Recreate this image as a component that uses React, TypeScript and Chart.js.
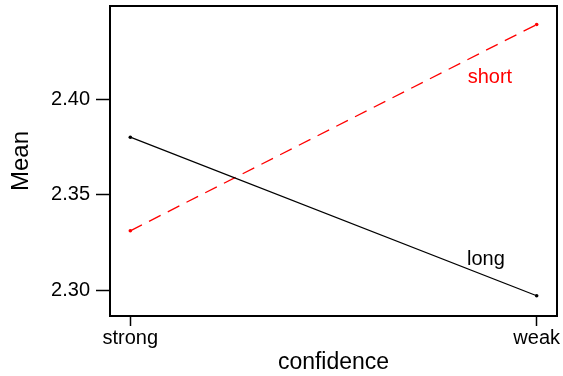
import React, { useEffect, useRef } from "react";
import { Chart, registerables } from "chart.js";

Chart.register(...registerables);

const categories = ["strong", "weak"];
const categoryPositions = [1, 2];
const longValues = [2.38, 2.297];
const shortValues = [2.331, 2.439];
const yTickValues = [2.3, 2.35, 2.4];
const seriesLabels = ["long", "short"];
const labelPositions = [
  { x: 1.875, y: 2.316 },
  { x: 1.885, y: 2.4115 },
];
const seriesColors = ["#000000", "#ff0000"];

const FONT = "'Liberation Sans', Arial, Helvetica, sans-serif";

export default function App() {
  const ref = useRef<HTMLCanvasElement | null>(null);

  useEffect(() => {
    if (!ref.current) return;

    const boxPlugin = {
      id: "boxAndLabels",
      afterDatasetsDraw(chart: any) {
        const { ctx, chartArea } = chart;
        ctx.save();
        ctx.strokeStyle = "#000";
        ctx.lineWidth = 2;
        ctx.strokeRect(
          chartArea.left,
          chartArea.top,
          chartArea.right - chartArea.left,
          chartArea.bottom - chartArea.top
        );
        const xs = chart.scales.x;
        const ys = chart.scales.y;
        ctx.font = `20px ${FONT}`;
        ctx.textAlign = "center";
        ctx.textBaseline = "middle";
        seriesLabels.forEach((lab, i) => {
          ctx.fillStyle = seriesColors[i];
          ctx.fillText(
            lab,
            xs.getPixelForValue(labelPositions[i].x),
            ys.getPixelForValue(labelPositions[i].y)
          );
        });
        ctx.restore();
      },
    };

    const chart = new Chart(ref.current, {
      type: "line",
      data: {
        datasets: [
          {
            label: seriesLabels[0],
            data: categoryPositions.map((x, i) => ({ x, y: longValues[i] })),
            borderColor: seriesColors[0],
            backgroundColor: seriesColors[0],
            borderWidth: 1.3,
            pointRadius: 1.8,
            pointBorderWidth: 0,
            fill: false,
          },
          {
            label: seriesLabels[1],
            data: categoryPositions.map((x, i) => ({ x, y: shortValues[i] })),
            borderColor: seriesColors[1],
            backgroundColor: seriesColors[1],
            borderWidth: 1.3,
            borderDash: [13, 8],
            pointRadius: 1.8,
            pointBorderWidth: 0,
            fill: false,
          },
        ],
      },
      options: {
        animation: false,
        responsive: true,
        maintainAspectRatio: false,
        layout: { padding: { top: 6, right: 6, left: 0, bottom: 0 } },
        plugins: {
          legend: { display: false },
          tooltip: { enabled: false },
        },
        scales: {
          x: {
            type: "linear",
            min: 0.95,
            max: 2.05,
            afterFit: (s: any) => {
              s.height = 60;
              s.paddingLeft = 0;
              s.paddingRight = 0;
            },
            afterBuildTicks: (s: any) => {
              s.ticks = categoryPositions.map((v) => ({ value: v }));
            },
            ticks: {
              color: "#000",
              font: { family: FONT, size: 20 },
              padding: 0,
              maxRotation: 0,
              autoSkip: false,
              callback: (v: any) => {
                const idx = categoryPositions.indexOf(Number(v));
                return idx >= 0 ? categories[idx] : "";
              },
            },
            grid: {
              drawOnChartArea: false,
              drawTicks: true,
              tickLength: 10,
              tickWidth: 1.5,
              tickColor: "#000",
            },
            border: { display: false },
            title: {
              display: true,
              text: "confidence",
              color: "#000",
              font: { family: FONT, size: 23 },
              padding: { top: 0, bottom: 0 },
            },
          },
          y: {
            type: "linear",
            min: 2.2864,
            max: 2.4487,
            afterFit: (s: any) => {
              s.width = 110;
              s.paddingTop = 0;
              s.paddingBottom = 0;
            },
            afterBuildTicks: (s: any) => {
              s.ticks = yTickValues.map((v) => ({ value: v }));
            },
            ticks: {
              color: "#000",
              font: { family: FONT, size: 20 },
              padding: 6,
              callback: (v: any) => Number(v).toFixed(2),
            },
            grid: {
              drawOnChartArea: false,
              drawTicks: true,
              tickLength: 14,
              tickWidth: 1.5,
              tickColor: "#000",
            },
            border: { display: false },
            title: {
              display: true,
              text: "Mean",
              color: "#000",
              font: { family: FONT, size: 24 },
              padding: { top: 7, bottom: 0 },
            },
          },
        },
      },
      plugins: [boxPlugin],
    });

    return () => chart.destroy();
  }, []);

  return (
    <div style={{ position: "absolute", left: 0, top: 0, width: 563, height: 376, background: "#fff" }}>
      <canvas ref={ref} />
    </div>
  );
}
